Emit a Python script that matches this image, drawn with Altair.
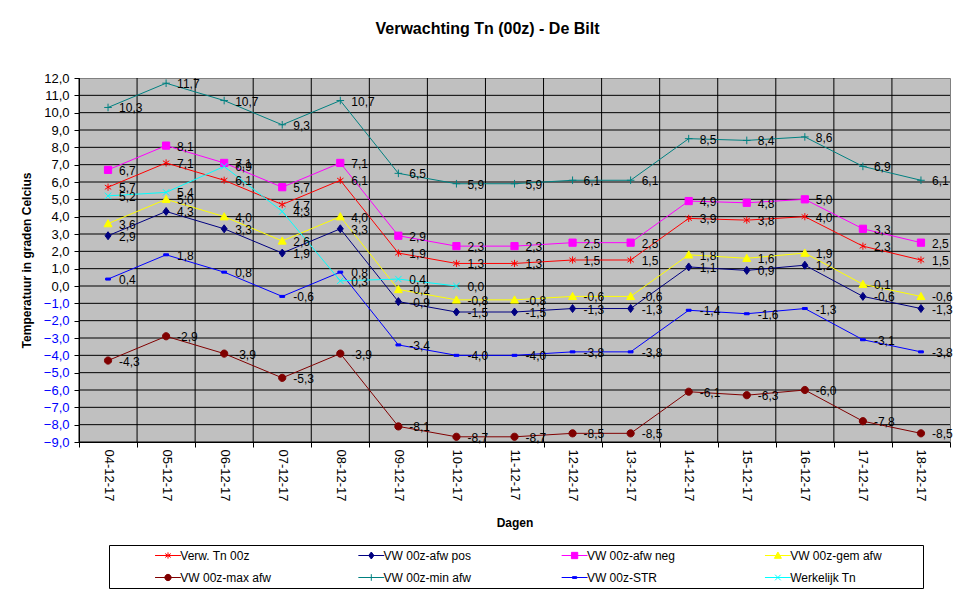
import altair as alt
import pandas as pd

dates = ["04-12-17", "05-12-17", "06-12-17", "07-12-17", "08-12-17", "09-12-17",
         "10-12-17", "11-12-17", "12-12-17", "13-12-17", "14-12-17", "15-12-17",
         "16-12-17", "17-12-17", "18-12-17"]

series = ["Verw. Tn 00z", "VW 00z-afw pos", "VW 00z-afw neg", "VW 00z-gem afw",
          "VW 00z-max afw", "VW 00z-min afw", "VW 00z-STR", "Werkelijk Tn"]

verw_tn = [5.7, 7.1, 6.1, 4.7, 6.1, 1.9, 1.3, 1.3, 1.5, 1.5, 3.9, 3.8, 4.0, 2.3, 1.5]
afw_pos = [2.9, 4.3, 3.3, 1.9, 3.3, -0.9, -1.5, -1.5, -1.3, -1.3, 1.1, 0.9, 1.2, -0.6, -1.3]
afw_neg = [6.7, 8.1, 7.1, 5.7, 7.1, 2.9, 2.3, 2.3, 2.5, 2.5, 4.9, 4.8, 5.0, 3.3, 2.5]
gem_afw = [3.6, 5.0, 4.0, 2.6, 4.0, -0.2, -0.8, -0.8, -0.6, -0.6, 1.8, 1.6, 1.9, 0.1, -0.6]
max_afw = [-4.3, -2.9, -3.9, -5.3, -3.9, -8.1, -8.7, -8.7, -8.5, -8.5, -6.1, -6.3, -6.0, -7.8, -8.5]
min_afw = [10.3, 11.7, 10.7, 9.3, 10.7, 6.5, 5.9, 5.9, 6.1, 6.1, 8.5, 8.4, 8.6, 6.9, 6.1]
str_vals = [0.4, 1.8, 0.8, -0.6, 0.8, -3.4, -4.0, -4.0, -3.8, -3.8, -1.4, -1.6, -1.3, -3.1, -3.8]
werkelijk = [5.2, 5.4, 6.9, 4.3, 0.3, 0.4, 0.0]

y_ticks = list(range(-9, 13))
y_grid = list(range(-9, 12))

colors = ["#FF0000", "#000080", "#FF00FF", "#FFFF00", "#800000", "#008080", "#0000FF", "#00FFFF"]

marker_paths = [
    "M0,-0.9V0.9M-0.8,-0.55L0.8,0.55M-0.8,0.55L0.8,-0.55",          # star
    "M0,-1L0.75,0L0,1L-0.75,0Z",                                      # diamond
    "M-0.9,-0.9H0.9V0.9H-0.9Z",                                       # square
    "M0,-1L1,0.8H-1Z",                                                # triangle
    "M-0.9,0A0.9,0.9 0 1,0 0.9,0A0.9,0.9 0 1,0 -0.9,0Z",              # circle
    "M-0.95,0H0.95M0,-0.95V0.95",                                     # plus
    "M-0.6,-0.25H0.6V0.25H-0.6Z",                                     # dash
    "M-0.8,-0.8L0.8,0.8M-0.8,0.8L0.8,-0.8",                           # x
]
legend_paths = ["M-3.7,0H3.7" + p for p in marker_paths]

all_values = [verw_tn, afw_pos, afw_neg, gem_afw, max_afw, min_afw, str_vals, werkelijk]
rows = []
for s, vals in zip(series, all_values):
    for d, v in zip(dates, vals):
        rows.append({"date": d, "series": s, "value": v,
                     "label": f"{v:.1f}".replace(".", ",")})
df = pd.DataFrame(rows)
grid_y_df = pd.DataFrame({"value": y_grid})
grid_x_df = pd.DataFrame({"date": dates})

FONT = "Liberation Sans"
NBSP = "\u00a0"
ZW = "\u200b"

cscale = alt.Scale(domain=series, range=colors)
xscale = alt.Scale(type="band", paddingInner=0, paddingOuter=0, domain=dates)
yscale = alt.Scale(domain=[-9, 12], nice=False, zero=False)

xaxis = alt.Axis(title="Dagen", labelAngle=90, tickBand="extent", grid=False,
                 domainColor="black", tickColor="black",
                 tickSize=5, labelFontSize=13, labelColor="black", labelPadding=2,
                 titleFontSize=12, titleFontWeight="bold", titlePadding=16)
yaxis = alt.Axis(title="Temperatuur in graden Celcius",
                 values=y_ticks,
                 labelExpr="replace(format(datum.value, '.1f'), '.', ',')",
                 labelColor={"condition": {"test": "datum.value < 0", "value": "#0000FF"}, "value": "black"},
                 grid=False, domainColor="black", tickColor="black", tickSize=5,
                 labelFontSize=13, labelPadding=5,
                 titleFontSize=12, titleFontWeight="bold", titlePadding=10)

X = alt.X("date:O", sort=dates, scale=xscale, bandPosition=0.5, axis=xaxis)
Y = alt.Y("value:Q", scale=yscale, axis=yaxis)

hgrid = alt.Chart(grid_y_df).mark_rule(color="black", strokeWidth=1).encode(
    y=alt.Y("value:Q", scale=yscale, axis=yaxis)
)
vgrid = alt.Chart(grid_x_df).mark_rule(color="black", strokeWidth=1).encode(
    x=alt.X("date:O", sort=dates, scale=xscale, bandPosition=0, axis=xaxis)
)

base = alt.Chart(df).encode(x=X, y=Y)

lines = base.mark_line(strokeWidth=1).encode(
    color=alt.Color("series:N", scale=cscale, legend=None)
)

points = base.mark_point(filled=True, size=64, strokeWidth=1, opacity=1).encode(
    fill=alt.Fill("series:N", scale=cscale, legend=None),
    stroke=alt.Stroke("series:N", scale=cscale, legend=None),
    shape=alt.Shape("series:N", scale=alt.Scale(domain=series, range=marker_paths), legend=None),
)

leg = alt.Legend(orient="none", legendX=30, legendY=467, columns=4, direction="horizontal",
                 title=ZW + NBSP * 9 + ZW, titleOrient="left", titleFontSize=12,
                 titleColor="white", titlePadding=8.5,
                 symbolSize=49, symbolOffset=9, symbolStrokeWidth=1, labelOffset=6.3,
                 labelFont=FONT, labelFontSize=12, labelColor="black", labelLimit=400,
                 labelExpr="datum.label + '" + NBSP * 11 + ZW + "'",
                 strokeColor="black", fillColor="white", padding=4.5,
                 rowPadding=10, columnPadding=47.3, gridAlign="all", symbolOpacity=1)

legend_layer = base.mark_point(filled=True, size=49, strokeWidth=1, opacity=1).encode(
    fill=alt.Fill("series:N", scale=cscale, legend=leg),
    stroke=alt.Stroke("series:N", scale=cscale, legend=leg),
    shape=alt.Shape("series:N", scale=alt.Scale(domain=series, range=legend_paths), legend=leg),
).transform_filter("false")

texts = base.mark_text(align="left", baseline="middle", dx=11, dy=1,
                       fontSize=12, font=FONT, color="black").encode(text="label:N")

chart = alt.layer(hgrid, vgrid, lines, points, legend_layer, texts).resolve_scale(
    shape="independent", fill="independent", stroke="independent"
).properties(
    width=871, height=364,
    title=alt.TitleParams("Verwachting Tn (00z) - De Bilt", fontSize=16, fontWeight="bold",
                          font=FONT, color="black", offset=35, dx=-27),
    padding={"left": 12, "top": 13, "right": 5, "bottom": 0},
    background="white",
).configure_view(
    fill="#C0C0C0", stroke="#808080", strokeWidth=1
).configure_axis(
    labelFont=FONT, titleFont=FONT, titleColor="black"
)

chart.save("out.html", embed_options={"renderer": "svg", "actions": False})
